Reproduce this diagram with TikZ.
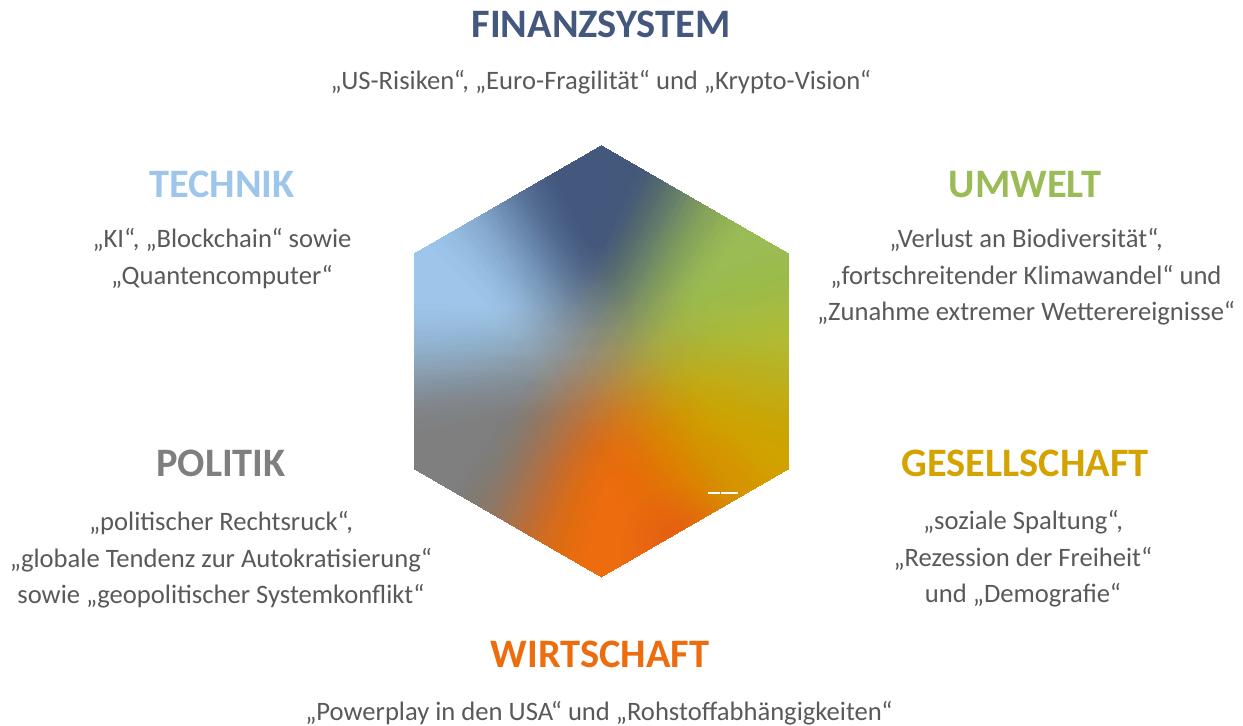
\documentclass[tikz,border=0pt]{standalone}
\usepackage{fontspec}
\setmainfont{Carlito}
\usetikzlibrary{fadings}
\definecolor{finblue}{HTML}{44587E}
\definecolor{techblue}{HTML}{9DC6EA}
\definecolor{envgreen}{HTML}{9BBB57}
\definecolor{limegreen}{HTML}{B7BF35}
\definecolor{socgold}{HTML}{D4A300}
\definecolor{ecoorange}{HTML}{EC6C0E}
\definecolor{redorange}{HTML}{E4561A}
\definecolor{polgray}{HTML}{7F7F7F}
\definecolor{hubmix}{HTML}{9A9280}
\definecolor{bodygray}{HTML}{595959}
\tikzfading[name=softspot, inner color=transparent!30, outer color=transparent!100]
\tikzfading[name=hubspot, inner color=transparent!0, outer color=transparent!100]

% colour fan round (#1,#2), one wedge every two degrees, soft hub
\newcommand\hexfan[2]{%
  \fill[fill=hubmix] (hc) circle (230);
  \foreach \a/\b/\ca/\cb in {0/4/limegreen/limegreen, 4/24/limegreen/envgreen,
      24/52/envgreen/envgreen, 52/70/envgreen/finblue, 70/108/finblue/finblue,
      108/134/finblue/techblue, 134/176/techblue/techblue, 176/194/techblue/polgray,
      194/234/polgray/polgray, 234/254/polgray/ecoorange, 254/294/ecoorange/ecoorange,
      294/318/ecoorange/socgold, 318/336/socgold/socgold, 336/358/socgold/limegreen,
      358/360/limegreen/limegreen}{
    \pgfmathtruncatemacro\n{\b-\a}
    \foreach \s in {0,2,...,\n}{
      \pgfmathsetmacro\p{100*(\n-\s)/\n}
      \fill[fill=\ca!\p!\cb] (#1,#2) -- +(\a+\s:700) -- +(\a+\s+8:700) -- cycle;
    }}
  \fill[fill=hubmix, path fading=hubspot] (#1,#2) circle (80);}

\begin{document}
\begin{tikzpicture}[x=0.02cm, y=0.02cm,
  head/.style={font=\fontsize{23}{28}\selectfont\bfseries, inner sep=0pt, anchor=base},
  body/.style={font=\fontsize{15.15}{20.7}\selectfont, text=bodygray, align=center,
               inner sep=0pt, anchor=base},
  blob/.style={path fading=softspot}
]
\useasboundingbox (0,0) rectangle (1243,725);
\coordinate (hc) at (601,364);
\foreach \i in {0,...,5}
  \coordinate (h\i) at ([shift={(90-60*\i:216)}]hc);
\begin{scope}
  \clip (h0) -- (h1) -- (h2) -- (h3) -- (h4) -- (h5) -- cycle;
  \foreach \dx/\dy [count=\k] in {0/0, 22/0, 11/19, -11/19, -22/0, -11/-19, 11/-19,
      45/0, 39/22.5, 22.5/39, 0/45, -22.5/39, -39/22.5, -45/0, -39/-22.5,
      -22.5/-39, 0/-45, 22.5/-39, 39/-22.5}{
    \pgfmathsetmacro\op{1/\k}
    \begin{scope}[transparency group, opacity=\op]
      \hexfan{597+\dx}{370+\dy}
    \end{scope}
  }
  \fill[blob, fill=redorange] (680,180) circle (60);
\end{scope}
\draw[white, line width=0.6pt] (708,232) -- (720,232) (721,232) -- (738,232);

\node[head, text=finblue] (fin) at (601,687) {FINANZSYSTEM};
\node[body] (fintext) at (601,636) {„US-Risiken“, „Euro-Fragilität“ und „Krypto-Vision“};

\node[head, text=techblue] (tech) at (222,528) {TECHNIK};
\node[body] (techtext) at (222,441) {„KI“, „Blockchain“ sowie\\„Quantencomputer“};

\node[head, text=envgreen] (env) at (1025,528) {UMWELT};
\node[body] (envtext) at (1026,404.5)
  {„Verlust an Biodiversität“,\\„fortschreitender Klimawandel“ und\\„Zunahme extremer Wetterereignisse“};

\node[head, text=polgray] (pol) at (221,249) {POLITIK};
\node[body] (poltext) at (221,121.5)
  {„politischer Rechtsruck“,\\„globale Tendenz zur Autokratisierung“\\sowie „geopolitischer Systemkonflikt“};

\node[head, text=socgold] (soc) at (1025,249) {GESELLSCHAFT};
\node[body] (soctext) at (1023,122.5)
  {„soziale Spaltung“,\\„Rezession der Freiheit“\\und „Demografie“};

\node[head, text=ecoorange] (eco) at (600,58) {WIRTSCHAFT};
\node[body] (ecotext) at (599,5) {„Powerplay in den USA“ und „Rohstoffabhängigkeiten“};
\end{tikzpicture}
\end{document}
